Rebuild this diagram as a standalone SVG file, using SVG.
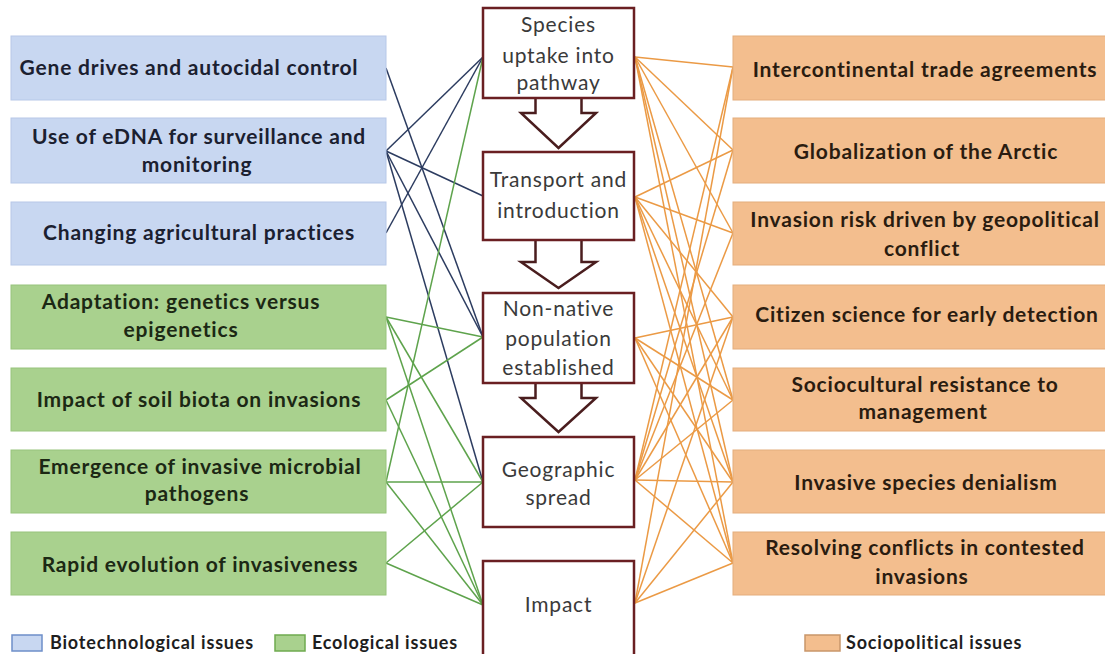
<svg xmlns="http://www.w3.org/2000/svg" width="1105" height="654" viewBox="0 0 1105 654">
<defs>
<style>
.bg{fill:#ffffff}
.bio{fill:#c8d7f1;stroke:#b7c8e8;stroke-width:1}
.eco{fill:#a9d18e;stroke:#98c47c;stroke-width:1}
.soc{fill:#f3be8e;stroke:#e4ad7d;stroke-width:1}
.stage{fill:#ffffff;stroke:#6a1f22;stroke-width:2.5}
.arrow{fill:#ffffff;stroke:#4a1d1e;stroke-width:2.5;stroke-linejoin:miter}
.lt{font-family:Lato,"Liberation Sans",sans-serif;font-weight:bold;font-size:21px;letter-spacing:0.8px;text-anchor:middle}
.tb{fill:#1b2030}
.tg{fill:#1c2814}
.to{fill:#2a1c10}
.ct{font-family:Lato,"Liberation Sans",sans-serif;font-size:21px;letter-spacing:0.8px;fill:#3a3a3a;text-anchor:middle}
.lg{font-family:Lato,"Liberation Sans",sans-serif;font-weight:bold;font-size:18px;letter-spacing:0.8px;fill:#1e1e1e}
.cb line{stroke:#2c3c60;stroke-width:1.5}
.cg line{stroke:#5ea34c;stroke-width:1.5}
.co line{stroke:#eb9a45;stroke-width:1.5}
</style>
</defs>
<rect class="bg" x="0" y="0" width="1105" height="654"/>

<g id="connectors">
<g class="cb">
<line x1="386" y1="68" x2="483" y2="337"/>
<line x1="386" y1="151" x2="483" y2="57"/>
<line x1="386" y1="151" x2="483" y2="196"/>
<line x1="386" y1="151" x2="483" y2="337"/>
<line x1="386" y1="151" x2="483" y2="482"/>
<line x1="386" y1="233" x2="483" y2="57"/>
</g>
<g class="cg">
<line x1="386" y1="317" x2="483" y2="337"/>
<line x1="386" y1="317" x2="483" y2="482"/>
<line x1="386" y1="317" x2="483" y2="605"/>
<line x1="386" y1="400" x2="483" y2="337"/>
<line x1="386" y1="400" x2="483" y2="605"/>
<line x1="386" y1="482" x2="483" y2="57"/>
<line x1="386" y1="482" x2="483" y2="482"/>
<line x1="386" y1="482" x2="483" y2="605"/>
<line x1="386" y1="563" x2="483" y2="482"/>
<line x1="386" y1="563" x2="483" y2="605"/>
</g>
<g class="co">
<line x1="635" y1="57" x2="733" y2="67"/>
<line x1="635" y1="57" x2="733" y2="150"/>
<line x1="635" y1="57" x2="733" y2="233"/>
<line x1="635" y1="57" x2="733" y2="400"/>
<line x1="635" y1="57" x2="733" y2="482"/>
<line x1="635" y1="57" x2="733" y2="563"/>
<line x1="635" y1="197" x2="733" y2="150"/>
<line x1="635" y1="197" x2="733" y2="233"/>
<line x1="635" y1="197" x2="733" y2="317"/>
<line x1="635" y1="197" x2="733" y2="400"/>
<line x1="635" y1="197" x2="733" y2="482"/>
<line x1="635" y1="197" x2="733" y2="563"/>
<line x1="635" y1="338" x2="733" y2="317"/>
<line x1="635" y1="338" x2="733" y2="400"/>
<line x1="635" y1="338" x2="733" y2="482"/>
<line x1="635" y1="338" x2="733" y2="563"/>
<line x1="635" y1="480" x2="733" y2="67"/>
<line x1="635" y1="480" x2="733" y2="150"/>
<line x1="635" y1="480" x2="733" y2="233"/>
<line x1="635" y1="480" x2="733" y2="317"/>
<line x1="635" y1="480" x2="733" y2="400"/>
<line x1="635" y1="480" x2="733" y2="482"/>
<line x1="635" y1="480" x2="733" y2="563"/>
<line x1="635" y1="603" x2="733" y2="67"/>
<line x1="635" y1="603" x2="733" y2="317"/>
<line x1="635" y1="603" x2="733" y2="482"/>
<line x1="635" y1="603" x2="733" y2="563"/>
</g>
</g>

<g id="n-gene"><rect class="bio" x="11" y="36" width="375" height="64"/><text class="lt tb" x="189" y="75">Gene drives and autocidal control</text></g>
<g id="n-edna"><rect class="bio" x="11" y="118" width="375" height="65"/><text class="lt tb" x="199" y="144">Use of eDNA for surveillance and</text><text class="lt tb" x="197" y="172">monitoring</text></g>
<g id="n-agri"><rect class="bio" x="11" y="202" width="375" height="63"/><text class="lt tb" x="199" y="240">Changing agricultural practices</text></g>
<g id="n-adapt"><rect class="eco" x="11" y="285" width="375" height="64"/><text class="lt tg" x="181" y="309">Adaptation: genetics versus</text><text class="lt tg" x="181" y="337">epigenetics</text></g>
<g id="n-soil"><rect class="eco" x="11" y="368" width="375" height="63"/><text class="lt tg" x="199" y="407">Impact of soil biota on invasions</text></g>
<g id="n-micro"><rect class="eco" x="11" y="450" width="375" height="63"/><text class="lt tg" x="200" y="474">Emergence of invasive microbial</text><text class="lt tg" x="197" y="501">pathogens</text></g>
<g id="n-rapid"><rect class="eco" x="11" y="532" width="375" height="63"/><text class="lt tg" x="200" y="572">Rapid evolution of invasiveness</text></g>

<g id="n-trade"><rect class="soc" x="733" y="36" width="380" height="64"/><text class="lt to" x="925" y="77">Intercontinental trade agreements</text></g>
<g id="n-arctic"><rect class="soc" x="733" y="118" width="380" height="65"/><text class="lt to" x="926" y="159">Globalization of the Arctic</text></g>
<g id="n-geo"><rect class="soc" x="733" y="202" width="380" height="63"/><text class="lt to" x="925" y="227">Invasion risk driven by geopolitical</text><text class="lt to" x="922" y="256">conflict</text></g>
<g id="n-citizen"><rect class="soc" x="733" y="285" width="380" height="64"/><text class="lt to" x="927" y="322">Citizen science for early detection</text></g>
<g id="n-socio"><rect class="soc" x="733" y="368" width="380" height="63"/><text class="lt to" x="925" y="392">Sociocultural resistance to</text><text class="lt to" x="923" y="419">management</text></g>
<g id="n-denial"><rect class="soc" x="733" y="450" width="380" height="63"/><text class="lt to" x="926" y="490">Invasive species denialism</text></g>
<g id="n-resolve"><rect class="soc" x="733" y="532" width="380" height="63"/><text class="lt to" x="925" y="555">Resolving conflicts in contested</text><text class="lt to" x="922" y="584">invasions</text></g>

<g id="arrows">
<path class="arrow" d="M535.5,98 V113 H521 L558.5,148 L596,113 H581.5 V98"/>
<path class="arrow" d="M535.5,240 V262 H521 L558.5,288 L596,262 H581.5 V240"/>
<path class="arrow" d="M535.5,383 V398 H521 L558.5,432 L596,398 H581.5 V383"/>
</g>

<g id="s-uptake"><rect class="stage" x="483" y="8" width="151" height="90"/><text class="ct" x="558.5" y="32">Species</text><text class="ct" x="558.5" y="63">uptake into</text><text class="ct" x="558.5" y="90">pathway</text></g>
<g id="s-transport"><rect class="stage" x="483" y="152" width="151" height="88"/><text class="ct" x="558.5" y="187">Transport and</text><text class="ct" x="558.5" y="218">introduction</text></g>
<g id="s-established"><rect class="stage" x="483" y="293" width="151" height="90"/><text class="ct" x="558.5" y="316">Non-native</text><text class="ct" x="558.5" y="346">population</text><text class="ct" x="558.5" y="375">established</text></g>
<g id="s-spread"><rect class="stage" x="483" y="437" width="151" height="90"/><text class="ct" x="558.5" y="477">Geographic</text><text class="ct" x="558.5" y="505">spread</text></g>
<g id="s-impact"><rect class="stage" x="483" y="561" width="151" height="95"/><text class="ct" x="558.5" y="612">Impact</text></g>

<g id="legend">
<rect x="12" y="635" width="30" height="16" fill="#c8d7f1" stroke="#6e8fc9" stroke-width="1.5"/>
<text class="lg" x="50" y="649">Biotechnological issues</text>
<rect x="275" y="635" width="30" height="16" fill="#a9d18e" stroke="#6faa4f" stroke-width="1.5"/>
<text class="lg" x="312" y="649">Ecological issues</text>
<rect x="805" y="635" width="35" height="16" fill="#f3be8e" stroke="#c9966a" stroke-width="1.5"/>
<text class="lg" x="846" y="649">Sociopolitical issues</text>
</g>
</svg>
